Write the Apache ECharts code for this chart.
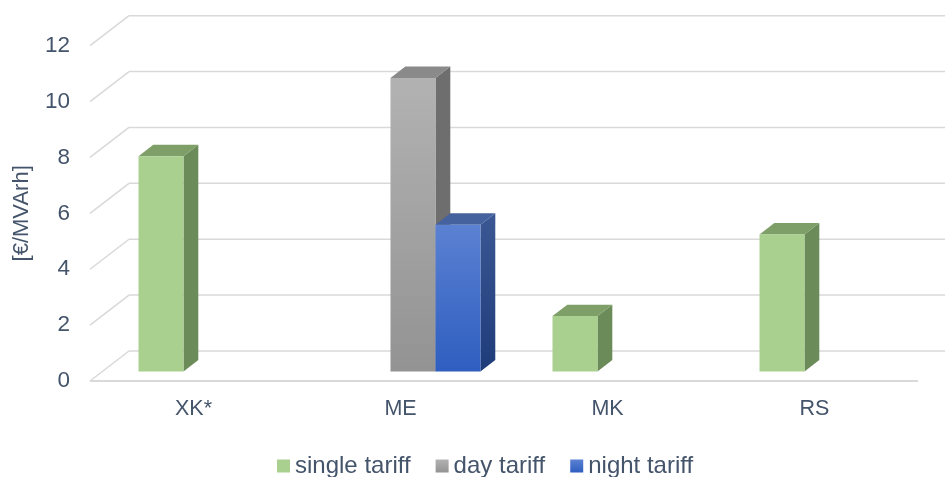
<!DOCTYPE html>
<html>
<head>
<meta charset="utf-8">
<style>
  html, body { margin: 0; padding: 0; background: #ffffff; }
  #chart { width: 945px; height: 477px; }
</style>
<script src="https://cdn.jsdelivr.net/npm/echarts@6/dist/echarts.min.js"></script>
</head>
<body>
<div id="chart"></div>
<script>
// Reactive energy tariffs by country
const categories = ['XK*', 'ME', 'MK', 'RS'];
const seriesNames = ['single tariff', 'day tariff', 'night tariff'];
const singleTariff = [7.7, null, 1.98, 4.9];
const dayTariff = [null, 10.5, null, null];
const nightTariff = [null, 5.25, null, null];
const yTicks = [0, 2, 4, 6, 8, 10, 12];

const TEXT = '#44546a';
const FONT = '"Liberation Sans", Arial, sans-serif';

// oblique depth of the floor / walls (pixels) and where the bars sit in it
const DEPTH = [39, -30];
const BAR_FRONT = 0.32;
const BAR_BACK = 0.70;
const GROUP_FRACTION = 0.652;

const LG = echarts.graphic.LinearGradient;
const palette = [
  { front: '#a9d08e', side: '#6b8b58', top: '#7f9f69', legend: '#a9d08e' },
  {
    front: new LG(0, 0, 0, 1, [{ offset: 0, color: '#b2b2b2' }, { offset: 1, color: '#939393' }]),
    side: '#6e6e6e', top: '#8a8a8a',
    legend: new LG(0, 0, 0, 1, [{ offset: 0, color: '#b2b2b2' }, { offset: 1, color: '#939393' }])
  },
  {
    front: new LG(0, 0, 0, 1, [{ offset: 0, color: '#5b81d2' }, { offset: 1, color: '#2e5ec0' }]),
    side: new LG(0, 0, 0, 1, [{ offset: 0, color: '#3b5794' }, { offset: 1, color: '#1f3c7a' }]),
    top: '#46629e',
    legend: new LG(0, 0, 0, 1, [{ offset: 0, color: '#5b81d2' }, { offset: 1, color: '#2e5ec0' }])
  }
];

function toData(values) {
  return values.map((v, i) => [i, v == null ? '-' : v]);
}

// walls and floor of the 3D frame
function renderFrame(params, api) {
  const cs = params.coordSys;
  const v = api.value(0);
  const yFront = api.coord([0, v])[1];
  const xl = cs.x, xr = cs.x + cs.width;
  const bx = xl + DEPTH[0], by = yFront + DEPTH[1];
  const children = [
    { type: 'line', shape: { x1: xl, y1: yFront, x2: bx, y2: by },
      style: { stroke: '#d9d9d9', lineWidth: 1.5 } },
    { type: 'line', shape: { x1: bx, y1: by, x2: xr + DEPTH[0], y2: by },
      style: { stroke: '#d9d9d9', lineWidth: 1.5 } }
  ];
  if (v === 0) {
    children.push({ type: 'line', shape: { x1: xl, y1: yFront, x2: xr, y2: yFront },
      style: { stroke: '#d9d9d9', lineWidth: 2.2 } });
  }
  return { type: 'group', silent: true, children };
}

function makeBarRenderer(sIdx) {
  return function (params, api) {
    const val = api.value(1);
    if (isNaN(val)) return null;
    const idx = api.value(0);
    const band = api.size([1, 0])[0];
    const barW = band * GROUP_FRACTION / seriesNames.length;
    const c = api.coord([idx, 0]);
    const t = api.coord([idx, val]);
    const fx = DEPTH[0] * BAR_FRONT, fy = DEPTH[1] * BAR_FRONT;
    const dx = DEPTH[0] * (BAR_BACK - BAR_FRONT), dy = DEPTH[1] * (BAR_BACK - BAR_FRONT);
    const x0 = c[0] - barW * seriesNames.length / 2 + sIdx * barW + fx;
    const x1 = x0 + barW;
    const yb = c[1] + fy;
    const yt = t[1] + fy;
    const col = palette[sIdx];
    return {
      type: 'group',
      children: [
        { type: 'polygon', shape: { points: [[x1, yt], [x1 + dx, yt + dy], [x1 + dx, yb + dy], [x1, yb]] },
          style: { fill: col.side } },
        { type: 'polygon', shape: { points: [[x0, yt], [x0 + dx, yt + dy], [x1 + dx, yt + dy], [x1, yt]] },
          style: { fill: col.top } },
        { type: 'rect', shape: { x: x0, y: yt, width: barW, height: yb - yt },
          style: { fill: col.front } }
      ]
    };
  };
}

const seriesValues = [singleTariff, dayTariff, nightTariff];

const chart = echarts.init(document.getElementById('chart'), null, { renderer: 'canvas' });
chart.setOption({
  animation: false,
  backgroundColor: '#ffffff',
  textStyle: { fontFamily: FONT },
  grid: { left: 90, right: 27, top: 45.7, bottom: 96, containLabel: false, outerBoundsMode: 'none' },
  legend: {
    data: seriesNames,
    left: 272, top: 449,
    icon: 'rect', itemWidth: 13, itemHeight: 13, itemGap: 25,
    textStyle: { color: TEXT, fontSize: 24, fontFamily: FONT },
    selectedMode: false
  },
  xAxis: {
    type: 'category',
    data: categories,
    axisLine: { show: false },
    axisTick: { show: false },
    splitLine: { show: false },
    axisLabel: { color: TEXT, fontSize: 21.5, fontFamily: FONT, margin: 17 }
  },
  yAxis: {
    type: 'value',
    min: 0, max: 12, interval: 2,
    name: '[€/MVArh]',
    nameLocation: 'middle',
    nameRotate: 90,
    nameGap: 57,
    nameTextStyle: { color: TEXT, fontSize: 22, fontFamily: FONT },
    axisLine: { show: false },
    axisTick: { show: false },
    splitLine: { show: false },
    axisLabel: { color: TEXT, fontSize: 22.5, fontFamily: FONT, margin: 20 }
  },
  series: [
    {
      type: 'custom',
      name: 'frame',
      silent: true,
      z: 1,
      clip: false,
      renderItem: renderFrame,
      encode: { y: 0 },
      data: yTicks.map(v => [v])
    }
  ].concat(seriesNames.map((name, s) => ({
    type: 'custom',
    name: name,
    z: 2 + s,
    clip: false,
    itemStyle: { color: palette[s].legend },
    renderItem: makeBarRenderer(s),
    encode: { x: 0, y: 1 },
    data: toData(seriesValues[s])
  })))
});
</script>
</body>
</html>
